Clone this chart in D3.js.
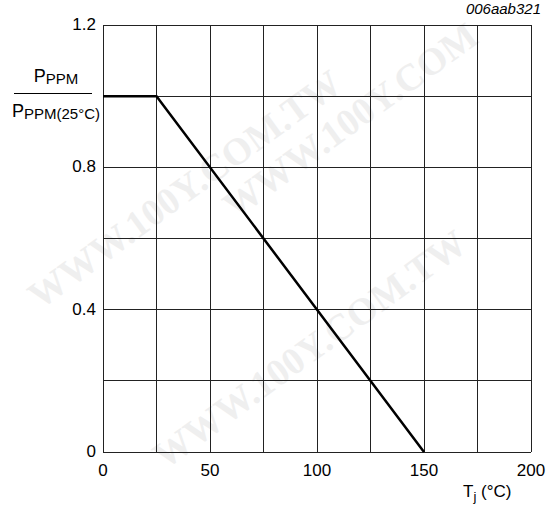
<!DOCTYPE html>
<html>
<head>
<meta charset="utf-8">
<script src="https://cdn.jsdelivr.net/npm/d3@7"></script>
<style>
  body { margin: 0; background: #fff; }
  svg text { font-family: "Liberation Sans", Arial, sans-serif; }
  svg text.wm { font-family: "Liberation Serif", serif; font-weight: bold; font-size: 38px; }
</style>
</head>
<body>
<div id="chart"></div>
<script>
// data
var tempPoints = [0, 25, 150];          // Tj (°C)
var powerRatio = [1.0, 1.0, 0.0];       // Pppm / Pppm(25°C)
var xTicks = [0, 50, 100, 150, 200];
var yTicks = [0, 0.4, 0.8, 1.2];
var xGrid = [0, 25, 50, 75, 100, 125, 150, 175, 200];
var yGrid = [0, 0.2, 0.4, 0.6, 0.8, 1.0, 1.2];

var W = 549, H = 509;
var margin = {top: 25, right: 18, bottom: 57, left: 103};

var svg = d3.select("#chart").append("svg")
    .attr("width", W).attr("height", H);

// faint watermark
var wm = svg.append("g").attr("fill", "#efefef");
[[40, 310, "WWW.100Y.COM.TW"], [165, 470, "WWW.100Y.COM.TW"], [235, 220, "WWW.100Y.COM"]].forEach(function (p) {
  wm.append("text").attr("class", "wm")
    .attr("transform", "translate(" + p[0] + "," + p[1] + ") rotate(-36)")
    .text(p[2]);
});

var x = d3.scaleLinear().domain([0, 200]).range([margin.left, W - margin.right]);
var y = d3.scaleLinear().domain([0, 1.2]).range([H - margin.bottom, margin.top]);

var grid = svg.append("g").attr("stroke", "#222").attr("stroke-width", 1).attr("shape-rendering", "crispEdges");
grid.selectAll(".vx").data(xGrid).enter().append("line")
    .attr("x1", d => x(d)).attr("x2", d => x(d))
    .attr("y1", y(0)).attr("y2", y(1.2));
grid.selectAll(".hy").data(yGrid).enter().append("line")
    .attr("y1", d => y(d)).attr("y2", d => y(d))
    .attr("x1", x(0)).attr("x2", x(200));

// tick labels
svg.append("g").selectAll("text").data(xTicks).enter().append("text")
    .attr("x", d => x(d)).attr("y", y(0) + 24)
    .attr("text-anchor", "middle").style("font-size", "17px")
    .text(d => d);
svg.append("g").selectAll("text").data(yTicks).enter().append("text")
    .attr("x", x(0) - 7).attr("y", d => y(d) + 5)
    .attr("text-anchor", "end").style("font-size", "17px")
    .text(d => d === 0 ? "0" : d.toFixed(1));

// curve
var line = d3.line().x(d => x(d[0])).y(d => y(d[1]));
svg.append("path")
    .datum(tempPoints.map((t, i) => [t, powerRatio[i]]))
    .attr("d", line).attr("fill", "none")
    .attr("stroke", "#000").attr("stroke-width", 2.5);

// y-axis label as a fraction
var yl = svg.append("g").style("font-size", "18px");
var num = yl.append("text").attr("x", 56).attr("y", 82).attr("text-anchor", "middle");
num.append("tspan").text("P");
num.append("tspan").attr("dy", 2).style("font-size", "15px").text("PPM");
yl.append("line").attr("x1", 14).attr("x2", 92).attr("y1", 93.5).attr("y2", 93.5)
    .attr("stroke", "#000").attr("stroke-width", 1);
var den = yl.append("text").attr("x", 12).attr("y", 117);
den.append("tspan").text("P");
den.append("tspan").attr("dy", 2).style("font-size", "15px").text("PPM(25°C)");

// x-axis label
var xl = svg.append("text").attr("x", 463).attr("y", 497).style("font-size", "17px");
xl.append("tspan").text("T");
xl.append("tspan").attr("dy", 4).style("font-size", "13px").text("j");
xl.append("tspan").attr("dy", -4).text(" (°C)");

// figure id
svg.append("text").attr("x", 541).attr("y", 14).attr("text-anchor", "end")
    .style("font-size", "15px").style("font-style", "italic").text("006aab321");
</script>
</body>
</html>
